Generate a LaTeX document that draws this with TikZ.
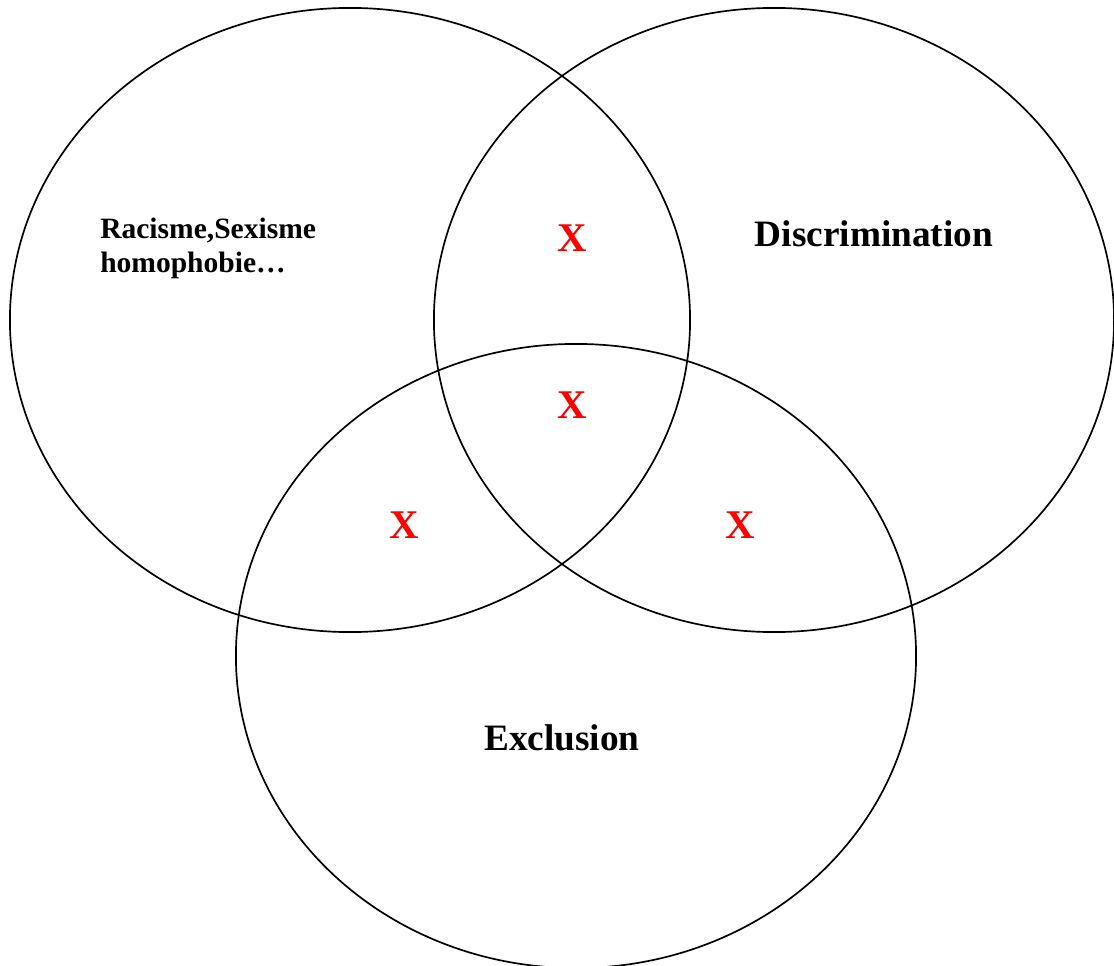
\documentclass[tikz,border=0pt]{standalone}
\usepackage{fontspec}
\setmainfont{Liberation Serif}
\usetikzlibrary{shapes.geometric,positioning}
\tikzset{
  circlebox/.style={
    ellipse,
    draw=black, line width=1.2pt,
    inner sep=0pt,
    minimum width=17cm,
    minimum height=15.6cm},
  crossmark/.style={
    text=red,
    font=\fontsize{29}{32}\selectfont\bfseries},
  title/.style={
    font=\fontsize{26.5}{30}\selectfont\bfseries},
  smalltitle/.style={
    align=left,
    font=\fontsize{21}{24}\selectfont\bfseries},
}
\begin{document}
\begin{tikzpicture}[x=0.025cm,y=-0.025cm]
\useasboundingbox (0,0) rectangle (1114,966);
\node[circlebox] (Racisme) at (350,320) {};
\node[circlebox] (Discrimination) at (774,320) {};
\node[circlebox] (Exclusion) at (576,656) {};

\node[smalltitle, anchor=north west, inner sep=0pt] (RacismeText) at (100,218) {Racisme,Sexisme\\homophobie…};
\node[title] (DiscriminationText) at (874,234) {Discrimination};
\node[title] (ExclusionText) at (562,738) {Exclusion};

\node[crossmark] (RD) at (572,238) {X};
\node[crossmark] (RDE) at (572,405) {X};
\node[crossmark] (RE) at (404,525) {X};
\node[crossmark] (DE) at (740,525) {X};
\end{tikzpicture}
\end{document}
